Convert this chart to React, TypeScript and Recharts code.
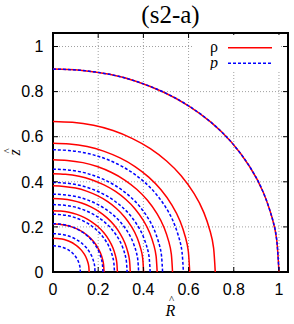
import React from 'react';
import {
  ComposedChart,
  Line,
  XAxis,
  YAxis,
  CartesianGrid,
  ReferenceArea,
  Legend,
} from 'recharts';

const W = 294;
const H = 324;
const PLOT_LEFT = 53;
const PLOT_RIGHT = 288;
const PLOT_TOP = 33;
const PLOT_BOTTOM = 272;

const ticks = [0, 0.2, 0.4, 0.6, 0.8, 1];
const seriesNames = ['ρ', 'p'];

// contour intercepts, inner to outer: R at z=0 and z at R=0
const rhoR = [0.16, 0.226, 0.285, 0.342, 0.401, 0.461, 0.529, 0.605, 0.718, 1.0];
const rhoZ = [0.15, 0.213, 0.272, 0.326, 0.382, 0.436, 0.498, 0.571, 0.668, 0.9];
const pR = [0.121, 0.186, 0.221, 0.272, 0.328, 0.379, 0.43, 0.485, 0.577, 1.0];
const pZ = [0.116, 0.17, 0.214, 0.256, 0.299, 0.345, 0.397, 0.456, 0.542, 0.9];

// normalised shape of a contour (R/R0, z/z0)
const shapeR = [0, 0.12, 0.25, 0.37, 0.49, 0.6, 0.7, 0.79, 0.87, 0.93, 0.97, 0.99, 1];
const shapeZ = [1, 0.994, 0.974, 0.939, 0.886, 0.819, 0.737, 0.639, 0.52, 0.394, 0.266, 0.159, 0];

const contour = (r0: number, z0: number) =>
  shapeR.map((u, i) => ({ R: u * r0, z: shapeZ[i] * z0 }));

const SANS = '"Liberation Sans", Arial, Helvetica, sans-serif';
const SERIF = '"Liberation Serif", "Times New Roman", serif';

const XTick = (props: any) => {
  const { x, payload } = props;
  return (
    <g>
      <line x1={x} y1={PLOT_BOTTOM} x2={x} y2={PLOT_BOTTOM - 5} stroke="#000" />
      <line x1={x} y1={PLOT_TOP} x2={x} y2={PLOT_TOP + 5} stroke="#000" />
      <text x={x} y={295} textAnchor="middle" fontSize={16} fontFamily={SANS} fill="#000">
        {payload.value}
      </text>
    </g>
  );
};

const YTick = (props: any) => {
  const { y, payload } = props;
  return (
    <g>
      <line x1={PLOT_LEFT} y1={y} x2={PLOT_LEFT + 5} y2={y} stroke="#000" />
      <line x1={PLOT_RIGHT} y1={y} x2={PLOT_RIGHT - 5} y2={y} stroke="#000" />
      <text x={43.5} y={y + 5.7} textAnchor="end" fontSize={16} fontFamily={SANS} fill="#000">
        {payload.value}
      </text>
    </g>
  );
};

// hatted axis titles, each as one text element
const XTitle = () => (
  <text fontFamily={SERIF} fill="#000">
    <tspan x={168.9} y={303} fontSize={11}>^</tspan>
    <tspan x={165.6} y={315.5} fontSize={16} fontStyle="italic">R</tspan>
  </text>
);

const YTitle = () => (
  <text transform="rotate(-90)" fontFamily={SERIF} fill="#000">
    <tspan x={-153.6} y={11} fontSize={11}>^</tspan>
    <tspan x={-155.6} y={19.5} fontSize={16} fontStyle="italic">z</tspan>
  </text>
);

const Key = ({ payload }: any) => {
  const items = seriesNames
    .map((name) => (payload || []).find((e: any) => e.value === name && e.type !== 'none'))
    .filter(Boolean);
  return (
    <svg width={89} height={35} style={{ display: 'block', background: '#fff' }}>
      {items.map((entry: any, i: number) => {
        const cy = 12.7 + i * 15.6;
        return (
          <g key={`key-${i}`}>
            <text
              x={26}
              y={cy + 4.5}
              textAnchor="end"
              fontSize={16}
              fontFamily={SERIF}
              fontStyle={entry.value === 'p' ? 'italic' : 'normal'}
              fill="#000"
            >
              {entry.value}
            </text>
            <line
              x1={36}
              x2={80}
              y1={cy}
              y2={cy}
              stroke={entry.color}
              strokeWidth={1.5}
              strokeDasharray={entry.payload?.strokeDasharray}
            />
          </g>
        );
      })}
    </svg>
  );
};

export default function App() {
  return (
    <div style={{ position: 'absolute', left: 0, top: 0, width: W, height: H, background: '#fff' }}>
      <div
        style={{
          position: 'absolute',
          left: PLOT_LEFT,
          width: PLOT_RIGHT - PLOT_LEFT,
          top: 1,
          textAlign: 'center',
          fontFamily: SERIF,
          fontSize: 25,
          lineHeight: '28px',
          zIndex: 2,
        }}
      >
        (s2-a)
      </div>
      <ComposedChart
        width={W}
        height={H}
        margin={{ top: PLOT_TOP, right: W - PLOT_RIGHT, bottom: 0, left: 0 }}
      >
        <CartesianGrid stroke="#a0a0a0" strokeDasharray="1 2" />
        <XAxis
          type="number"
          dataKey="R"
          domain={[0, 1.04]}
          ticks={ticks}
          interval={0}
          allowDataOverflow
          height={H - PLOT_BOTTOM}
          axisLine={false}
          tickLine={false}
          tick={<XTick />}
          label={<XTitle />}
        />
        <YAxis
          type="number"
          domain={[0, 1.06]}
          ticks={ticks}
          interval={0}
          allowDataOverflow
          width={PLOT_LEFT}
          axisLine={false}
          tickLine={false}
          tick={<YTick />}
          label={<YTitle />}
        />
        {rhoR.map((r0, i) => (
          <Line
            key={`rho-${i}`}
            data={contour(r0, rhoZ[i])}
            dataKey="z"
            name={seriesNames[0]}
            type="natural"
            stroke="#ff0000"
            strokeWidth={1.5}
            dot={false}
            activeDot={false}
            legendType={i === 0 ? 'line' : 'none'}
            isAnimationActive={false}
          />
        ))}
        {pR.map((r0, i) => (
          <Line
            key={`p-${i}`}
            data={contour(r0, pZ[i])}
            dataKey="z"
            name={seriesNames[1]}
            type="natural"
            stroke="#0000ff"
            strokeWidth={1.5}
            strokeDasharray="3 2"
            dot={false}
            activeDot={false}
            legendType={i === 0 ? 'line' : 'none'}
            isAnimationActive={false}
          />
        ))}
        <ReferenceArea
          x1={0}
          x2={1.04}
          y1={0}
          y2={1.06}
          fill="none"
          fillOpacity={0}
          stroke="#000"
          strokeWidth={2}
          ifOverflow="visible"
        />
        <Legend
          layout="vertical"
          align="center"
          verticalAlign="middle"
          content={<Key />}
          wrapperStyle={{ left: 192, top: 35, width: 89, height: 35 }}
        />
      </ComposedChart>
    </div>
  );
}
